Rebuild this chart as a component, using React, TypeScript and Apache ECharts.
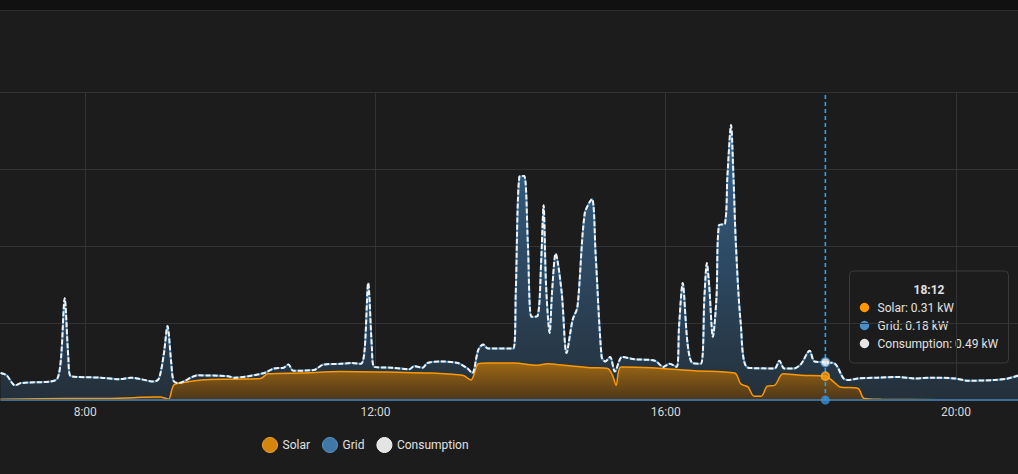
import React, { useEffect, useRef } from 'react';
import * as echarts from 'echarts';

// ---- data (times as H:MM, values in kW) ----
const X_TICKS = ['8:00', '12:00', '16:00', '20:00'];
const X_MIN = 409.5; // minutes since midnight at left edge
const X_MAX = 1251.3; // minutes since midnight at right edge
const Y_MAX = 4;
const TOOLTIP_TIME = '18:12';
const LEGEND = ['Solar', 'Grid', 'Consumption'];

const consumption: [string, number][] = [
  ['6:50', 0.35], ['6:55', 0.32], ['7:02', 0.19], ['7:07', 0.22], ['7:31', 0.24], ['7:37', 0.28],
  ['7:40', 0.55], ['7:43', 1.32], ['7:46', 0.55], ['7:48', 0.31], ['8:13', 0.29], ['8:28', 0.27],
  ['8:38', 0.29], ['8:57', 0.24], ['9:01', 0.28], ['9:05', 0.6], ['9:08', 0.96], ['9:11', 0.5],
  ['9:13', 0.25], ['9:17', 0.22], ['9:33', 0.32], ['9:58', 0.31], ['10:03', 0.29], ['10:28', 0.35],
  ['10:36', 0.41], ['10:44', 0.42], ['10:48', 0.46], ['10:52', 0.38], ['11:09', 0.39], ['11:17', 0.46],
  ['11:31', 0.47], ['11:40', 0.48], ['11:48', 0.47], ['11:51', 0.65], ['11:54', 1.52], ['11:57', 0.69],
  ['11:59', 0.43], ['12:13', 0.42], ['12:28', 0.4], ['12:32', 0.44], ['12:39', 0.42], ['12:43', 0.48],
  ['12:54', 0.5], ['13:08', 0.48], ['13:16', 0.41], ['13:20', 0.35], ['13:25', 0.65], ['13:29', 0.72],
  ['13:33', 0.67], ['13:54', 0.67], ['13:56', 1.39], ['13:59', 2.9], ['14:03', 2.91], ['14:06', 2.03],
  ['14:09', 1.08], ['14:14', 1.09], ['14:17', 1.8], ['14:19', 2.53], ['14:21', 1.5], ['14:24', 0.87],
  ['14:26', 1.4], ['14:29', 1.9], ['14:34', 1.39], ['14:38', 0.61], ['14:43', 1.04], ['14:47', 1.21],
  ['14:53', 2.42], ['14:59', 2.61], ['15:02', 1.9], ['15:07', 0.56], ['15:10', 0.5], ['15:14', 0.56],
  ['15:18', 0.37], ['15:24', 0.56], ['15:34', 0.53], ['15:51', 0.51], ['15:58', 0.43], ['16:03', 0.47],
  ['16:09', 0.43], ['16:11', 0.95], ['16:14', 1.52], ['16:18', 0.74], ['16:22', 0.48], ['16:29', 0.47],
  ['16:32', 1.34], ['16:34', 1.78], ['16:36', 1.47], ['16:39', 0.82], ['16:42', 1.34], ['16:44', 2.27],
  ['16:49', 2.29], ['16:51', 2.9], ['16:54', 3.57], ['16:56', 2.9], ['16:58', 2.03], ['17:02', 1.0],
  ['17:08', 0.42], ['17:30', 0.41], ['17:34', 0.51], ['17:38', 0.41], ['17:46', 0.41], ['17:52', 0.47],
  ['17:59', 0.64], ['18:03', 0.5], ['18:12', 0.49], ['18:20', 0.47], ['18:27', 0.28], ['18:31', 0.26],
  ['18:39', 0.28], ['18:55', 0.29], ['19:12', 0.3], ['19:26', 0.28], ['19:40', 0.29], ['19:59', 0.28],
  ['20:10', 0.25], ['20:32', 0.26], ['20:43', 0.28], ['20:52', 0.32],
];

const solar: [string, number][] = [
  ['6:50', 0.01], ['7:45', 0.02], ['8:13', 0.02], ['8:40', 0.03], ['8:57', 0.04], ['9:02', 0.04],
  ['9:07', 0.02], ['9:09', 0.01], ['9:13', 0.19], ['9:19', 0.22], ['9:36', 0.26], ['10:03', 0.27],
  ['10:25', 0.28], ['10:31', 0.34], ['10:58', 0.35], ['11:31', 0.37], ['12:18', 0.36], ['12:46', 0.35],
  ['13:12', 0.32], ['13:19', 0.26], ['13:25', 0.47], ['13:33', 0.48], ['13:55', 0.48], ['14:14', 0.45],
  ['14:22', 0.47], ['14:36', 0.45], ['14:58', 0.42], ['15:12', 0.41], ['15:16', 0.32], ['15:19', 0.19],
  ['15:23', 0.43], ['15:48', 0.42], ['16:24', 0.38], ['16:57', 0.35], ['17:02', 0.21], ['17:08', 0.17],
  ['17:13', 0.05], ['17:19', 0.05], ['17:24', 0.18], ['17:30', 0.19], ['17:37', 0.34], ['17:52', 0.32],
  ['18:12', 0.31], ['18:20', 0.22], ['18:24', 0.17], ['18:39', 0.15], ['18:44', 0.02], ['18:58', 0.01],
  ['20:52', 0.0],
];

const grid: [string, number][] = [
  ['6:50', 0], ['18:12', 0], ['20:52', 0],
];

const toMin = (s: string) => {
  const [h, m] = s.split(':').map(Number);
  return h * 60 + m;
};
const fmt = (v: number) => {
  const h = Math.floor(v / 60);
  const m = Math.round(v - h * 60);
  return `${h}:${String(m).padStart(2, '0')}`;
};
const toXY = (arr: [string, number][]) => arr.map(([t, v]) => [toMin(t), v]);
const valueAt = (arr: [string, number][], t: string) => (arr.find((d) => d[0] === t) || [t, 0])[1];

const FONT = 'Roboto, "Noto Sans", sans-serif';

export default function App() {
  const ref = useRef<HTMLDivElement>(null);

  useEffect(() => {
    document.body.style.margin = '0';
    document.body.style.background = '#1c1c1c';
    if (!ref.current) return;
    const chart = echarts.init(ref.current, undefined, { renderer: 'svg' });

    const tipX = toMin(TOOLTIP_TIME);
    const solarTip = valueAt(solar, TOOLTIP_TIME);
    const consTip = valueAt(consumption, TOOLTIP_TIME);
    const gridTip = Math.round((consTip - solarTip) * 100) / 100;
    const tickMins = X_TICKS.map(toMin);

    const consGrad = new echarts.graphic.LinearGradient(0, 0, 0, 1, [
      { offset: 0, color: '#36628a' },
      { offset: 1, color: '#24303a' },
    ]);
    const solarGrad = new echarts.graphic.LinearGradient(0, 0, 0, 1, [
      { offset: 0, color: '#9c6714' },
      { offset: 1, color: '#4c3619' },
    ]);

    const rows = [
      { color: '#ff9800', text: `Solar: ${solarTip.toFixed(2)} kW` },
      { color: '#4a90c8', text: `Grid: ${gridTip.toFixed(2)} kW` },
      { color: '#e6e6e6', text: `Consumption: ${consTip.toFixed(2)} kW` },
    ];

    const dot = (color: string, size: number, border?: string) => ({
      symbol: 'circle',
      symbolSize: size,
      silent: true,
      label: { show: false },
      itemStyle: border ? { color, borderColor: border, borderWidth: 1.5 } : { color },
    });

    chart.setOption({
      animation: false,
      backgroundColor: '#1c1c1c',
      textStyle: { fontFamily: FONT },
      grid: { left: 0, right: 0, top: 92, bottom: 74 },
      legend: {
        left: 257,
        top: 432,
        itemWidth: 15,
        itemHeight: 15,
        itemGap: 12,
        icon: 'circle',
        textStyle: { color: '#e1e1e1', fontSize: 12, fontFamily: FONT },
        data: [
          { name: LEGEND[0], itemStyle: { color: '#d4860c', borderColor: '#f0a030', borderWidth: 1 } },
          { name: LEGEND[1], itemStyle: { color: '#3f78a6', borderColor: '#5a93c2', borderWidth: 1 } },
          { name: LEGEND[2], itemStyle: { color: '#e4e4e4', borderColor: '#f4f4f4', borderWidth: 1 } },
        ],
      },
      xAxis: {
        type: 'value',
        min: X_MIN,
        max: X_MAX,
        axisLine: { show: false },
        axisTick: { show: false, customValues: tickMins },
        axisLabel: {
          customValues: tickMins,
          formatter: (v: number) => fmt(v),
          color: '#d8d8d8',
          fontSize: 12,
          margin: 6,
          fontFamily: FONT,
        },
        splitLine: { show: true, lineStyle: { color: '#333333', width: 1 } },
      },
      yAxis: {
        type: 'value',
        min: 0,
        max: Y_MAX,
        interval: 1,
        axisLine: { show: false },
        axisTick: { show: false },
        axisLabel: { show: false },
        splitLine: { show: true, lineStyle: { color: '#333333', width: 1 } },
      },
      graphic: [
        { type: 'rect', shape: { x: 0, y: 0, width: 1018, height: 10 }, style: { fill: '#111111' }, silent: true },
        { type: 'rect', shape: { x: 0, y: 10, width: 1018, height: 1 }, style: { fill: '#2f2f2f' }, silent: true },
        {
          type: 'group',
          x: 849.5,
          y: 271,
          z: 100,
          children: [
            {
              type: 'rect',
              shape: { x: 0, y: 0, width: 159, height: 92, r: 4 },
              style: { fill: '#1c1c1c', stroke: '#3a3a3a', lineWidth: 1 },
            },
            {
              type: 'text',
              x: 79.5,
              y: 18.5,
              style: {
                text: TOOLTIP_TIME,
                fill: '#e1e1e1',
                font: `bold 12px ${FONT}`,
                align: 'center',
                verticalAlign: 'middle',
              },
            },
            ...rows.flatMap((r, i) => [
              {
                type: 'circle',
                shape: { cx: 15, cy: 36.5 + i * 18, r: 4.7 },
                style: { fill: r.color },
              },
              {
                type: 'text',
                x: 28,
                y: 36.5 + i * 18,
                style: {
                  text: r.text,
                  fill: '#e1e1e1',
                  font: `12px ${FONT}`,
                  align: 'left',
                  verticalAlign: 'middle',
                },
              },
            ]),
          ],
        },
      ],
      series: [
        {
          name: 'consumption-fill',
          type: 'line',
          data: toXY(consumption),
          smooth: 0.3,
          showSymbol: false,
          silent: true,
          lineStyle: { color: '#3f7fb0', width: 2 },
          areaStyle: { color: consGrad, opacity: 1 },
        },
        {
          name: 'Solar',
          type: 'line',
          data: toXY(solar),
          smooth: 0.3,
          showSymbol: false,
          silent: true,
          itemStyle: { color: '#ff9800' },
          lineStyle: { color: '#ff9800', width: 1.5 },
          areaStyle: { color: solarGrad, opacity: 1 },
        },
        {
          name: 'Consumption',
          type: 'line',
          data: toXY(consumption),
          smooth: 0.3,
          showSymbol: false,
          silent: true,
          itemStyle: { color: '#f0f0f0' },
          lineStyle: { color: '#f2f2f2', width: 2, type: [5, 2] },
        },
        {
          name: 'Grid',
          type: 'line',
          data: toXY(grid),
          showSymbol: false,
          silent: true,
          clip: false,
          itemStyle: { color: '#3f78a6' },
          lineStyle: { color: '#3d6f98', width: 2 },
        },
        {
          name: 'pointer',
          type: 'line',
          data: [[tipX, 0], [tipX, Y_MAX]],
          showSymbol: false,
          silent: true,
          z: 5,
          lineStyle: { color: '#22a3ff', width: 1.6, type: [4, 3] },
        },
        {
          name: 'pointer-solar',
          type: 'scatter',
          z: 6,
          silent: true,
          data: [[tipX, solarTip]],
          ...dot('#ff9800', 8, '#ffad33'),
        },
        {
          name: 'pointer-consumption',
          type: 'scatter',
          z: 6,
          silent: true,
          data: [[tipX, consTip]],
          ...dot('#ffffff', 9, '#3d8fd2'),
        },
        {
          name: 'pointer-grid',
          type: 'scatter',
          z: 6,
          silent: true,
          clip: false,
          data: [[tipX, 0]],
          ...dot('#3a8fd6', 9),
        },
      ],
    });

    return () => chart.dispose();
  }, []);

  return <div ref={ref} style={{ width: 1018, height: 474, background: '#1c1c1c' }} />;
}
